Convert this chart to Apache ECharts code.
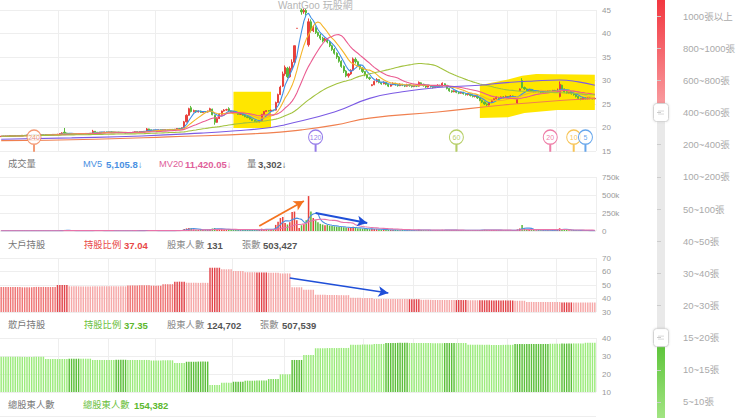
<!DOCTYPE html>
<html><head><meta charset="utf-8">
<script src="https://cdn.jsdelivr.net/npm/echarts@6/dist/echarts.min.js"></script>
<style>html,body{margin:0;padding:0;background:#fff}#c{width:740px;height:418px}</style>
</head><body><div id="c"></div>
<script>
// ---- daily candles [open, close, low, high] ----
const candles = [
[18.05,18.15,18.0,18.2],[18.15,18.1,18.05,18.2],[18.1,18.2,18.05,18.25],[18.2,18.15,18.1,18.25],[18.15,18.25,18.1,18.3],[18.25,18.2,18.15,18.3],[18.2,18.3,18.15,18.35],[18.3,18.25,18.2,18.35],[18.25,18.3,18.2,18.4],[18.3,18.35,18.25,18.4],
[18.35,18.3,18.25,18.4],[18.3,18.4,18.25,18.45],[18.4,18.35,18.3,18.45],[18.35,18.4,18.3,18.5],[18.4,18.45,18.35,18.5],[18.45,18.4,18.35,18.5],[18.4,18.45,18.35,18.5],[18.45,18.5,18.4,18.55],[18.5,18.45,18.4,18.55],[18.45,18.5,18.4,18.6],
[18.5,18.45,18.4,18.55],[18.45,18.5,18.4,18.55],[18.5,18.55,18.45,18.6],[18.55,18.5,18.45,18.6],[18.5,18.55,18.45,18.65],[18.55,18.7,18.5,18.75],[18.7,18.85,18.65,19.0],[19.0,18.8,18.7,19.9],[18.8,18.7,18.6,18.9],[18.7,18.65,18.6,18.75],
[18.65,18.7,18.6,18.75],[18.7,18.6,18.55,18.75],[18.6,18.65,18.55,18.7],[18.65,18.7,18.6,18.75],[18.7,18.65,18.6,18.75],[18.65,18.7,18.6,18.8],[18.7,18.75,18.65,18.8],[18.75,18.7,18.65,18.8],[18.7,18.8,18.65,18.85],[18.8,19.2,18.75,19.5],
[19.2,19.0,18.95,19.25],[19.0,18.95,18.9,19.05],[18.95,19.0,18.9,19.05],[19.0,18.95,18.9,19.05],[18.95,19.05,18.9,19.1],[19.05,19.0,18.95,19.1],[19.0,19.05,18.95,19.1],[19.05,19.0,18.95,19.1],[19.0,18.95,18.9,19.05],[18.95,19.0,18.9,19.05],
[19.0,18.9,18.85,19.05],[18.9,18.95,18.85,19.0],[18.95,18.9,18.85,19.0],[18.9,18.85,18.8,18.95],[18.85,18.9,18.8,18.95],[18.9,18.95,18.85,19.0],[18.95,19.0,18.9,19.05],[19.0,19.1,18.95,19.15],[19.1,19.05,19.0,19.15],[19.05,19.1,19.0,19.2],
[19.1,19.15,19.05,19.2],[19.15,19.2,19.1,19.25],[19.2,19.7,19.15,19.9],[19.7,19.5,19.4,19.75],[19.5,19.4,19.35,19.55],[19.4,19.45,19.35,19.5],[19.45,19.4,19.35,19.5],[19.4,19.5,19.35,19.55],[19.5,19.45,19.4,19.55],[19.45,19.5,19.4,19.55],
[19.5,19.55,19.45,19.6],[19.55,19.5,19.45,19.6],[19.5,19.6,19.45,19.65],[19.6,19.55,19.5,19.65],[19.55,19.65,19.5,19.7],[19.65,19.8,19.6,19.85],[19.8,19.75,19.7,19.9],[19.75,19.95,19.7,20.0],[19.95,21.2,19.9,21.4],[21.2,22.6,21.1,22.8],
[22.6,24.0,22.5,24.2],[24.2,23.4,23.2,24.6],[23.4,23.6,23.2,23.8],[23.6,23.3,23.1,23.7],[23.3,23.5,23.2,23.6],[23.5,23.2,23.1,23.6],[23.2,23.4,23.1,23.5],[23.4,23.3,23.2,23.5],[23.3,23.5,23.2,23.6],[23.5,24.0,23.4,24.2],
[23.9,22.7,22.6,24.0],[22.6,21.1,20.6,22.7],[21.1,21.9,21.0,22.0],[21.9,22.8,21.8,23.0],[22.8,23.5,22.7,23.6],[23.5,23.7,23.4,23.9],[23.7,23.8,23.6,24.0],[24.0,23.5,23.4,24.3],[23.5,23.4,23.3,23.6],[23.4,23.2,23.1,23.5],
[23.2,23.0,22.9,23.3],[23.0,22.8,22.7,23.1],[22.8,22.9,22.7,23.0],[22.9,22.6,22.5,23.0],[22.6,22.3,22.2,22.7],[22.3,22.1,22.0,22.4],[22.1,21.8,21.7,22.2],[21.8,21.5,21.4,21.9],[21.5,21.3,21.2,21.6],[21.3,21.2,21.1,21.4],
[21.2,21.5,21.1,21.6],[21.5,22.8,21.4,22.9],[22.8,23.4,22.7,23.5],[23.4,23.6,23.3,23.7],[23.6,23.5,23.4,23.7],[23.5,23.7,23.4,23.8],[23.7,23.6,23.5,23.8],[23.7,25.3,23.6,25.5],[25.3,27.0,25.2,27.2],[27.0,28.6,26.9,28.9],
[28.8,31.4,28.6,31.9],[31.4,32.8,31.0,33.2],[32.6,30.8,30.5,32.9],[30.8,32.6,30.6,33.0],[32.6,33.9,32.3,34.5],[33.9,37.4,33.7,37.4],[41.1,41.1,41.1,41.1],[45.1,45.1,45.1,45.1],[45.0,44.6,44.0,45.3],[44.6,44.9,44.2,45.3],
[44.9,44.4,43.8,45.2],[37.6,42.5,37.2,43.2],[42.5,40.6,40.2,43.0],[40.6,41.4,40.3,41.8],[41.2,40.2,39.9,41.5],[40.2,39.6,39.3,40.4],[39.6,39.0,38.6,39.9],[39.0,38.4,38.1,39.3],[38.5,38.8,38.2,39.1],[38.8,38.2,37.9,39.0],
[38.2,37.4,37.1,38.4],[37.4,36.6,36.3,37.6],[36.6,35.8,35.5,36.9],[35.8,35.0,34.6,36.0],[35.0,34.1,33.8,35.2],[34.1,33.0,32.7,34.3],[33.0,32.0,31.6,33.2],[32.0,31.0,30.7,32.2],[31.0,31.4,30.6,31.6],[31.4,32.2,31.2,32.4],
[32.2,34.6,32.0,34.9],[34.5,34.0,33.6,34.9],[34.0,33.2,33.0,34.2],[33.2,32.6,32.3,33.4],[32.6,31.9,31.6,32.8],[31.9,31.2,30.9,32.0],[31.2,30.6,30.4,31.3],[30.6,30.4,30.1,30.8],[28.9,29.1,28.8,29.2],[29.1,29.8,29.0,30.0],
[29.8,30.2,29.6,30.5],[30.2,29.6,29.4,30.3],[29.6,29.3,29.1,29.7],[29.3,29.6,29.2,29.8],[29.6,29.2,29.0,29.7],[29.2,28.8,28.6,29.3],[28.8,29.1,28.7,29.3],[29.1,29.4,29.0,29.6],[29.4,29.1,28.9,29.5],[29.1,28.9,28.7,29.2],
[28.9,29.2,28.8,29.4],[29.2,29.0,28.8,29.3],[29.0,28.8,28.6,29.1],[28.8,29.1,28.7,29.3],[29.1,28.9,28.7,29.2],[28.9,28.7,28.5,29.0],[28.7,29.0,28.6,29.1],[29.0,28.8,28.6,29.1],[28.8,29.6,28.7,29.8],[29.5,29.2,29.0,29.6],
[29.2,28.9,28.7,29.3],[28.9,28.6,28.4,29.0],[28.6,28.9,28.5,29.0],[28.9,28.7,28.5,29.0],[28.7,28.5,28.3,28.8],[28.5,28.8,28.4,28.9],[28.8,29.0,28.7,29.2],[29.0,28.8,28.6,29.1],[28.8,29.4,28.7,29.6],[29.3,29.0,28.8,29.4],
[29.0,28.3,28.1,29.0],[28.3,27.8,27.6,28.4],[27.8,27.6,27.4,27.9],[27.6,27.8,27.5,27.9],[27.8,27.5,27.3,27.9],[27.5,27.3,27.1,27.6],[27.3,27.5,27.2,27.6],[27.5,27.2,27.0,27.6],[27.2,27.0,26.8,27.3],[27.0,27.1,26.8,27.2],
[27.1,26.8,26.6,27.2],[26.8,26.6,26.4,26.9],[26.6,26.7,26.4,26.8],[26.7,26.3,26.1,26.8],[26.3,25.8,25.6,26.4],[25.8,25.4,25.2,25.9],[25.4,25.0,24.8,25.5],[25.0,24.8,24.6,25.1],[24.8,25.3,24.7,25.4],[25.3,25.8,25.2,25.9],
[25.8,26.1,25.7,26.2],[26.1,26.4,26.0,26.6],[26.4,26.2,26.0,26.5],[26.2,26.5,26.1,26.6],[26.5,26.4,26.2,26.7],[26.4,26.6,26.3,26.8],[26.6,26.5,26.3,26.7],[26.5,26.7,26.4,26.9],[26.7,26.6,26.4,26.8],[26.6,26.4,26.2,26.7],
[25.2,25.9,25.0,26.0],[27.9,28.2,27.8,28.3],[30.0,28.5,28.3,30.5],[28.5,28.2,28.0,28.7],[28.2,27.9,27.7,28.3],[27.9,28.1,27.8,28.2],[28.1,27.8,27.6,28.2],[27.8,27.6,27.4,27.9],[27.6,27.8,27.5,27.9],[27.8,27.7,27.5,27.9],
[27.7,27.5,27.3,27.8],[27.5,27.7,27.4,27.8],[27.7,27.6,27.4,27.8],[27.6,27.8,27.5,27.9],[27.8,27.7,27.5,27.9],[27.7,27.9,27.6,28.0],[27.9,27.6,27.4,28.0],[27.6,27.8,27.5,28.3],[26.6,29.2,26.4,29.8],[29.0,28.2,28.0,29.1],
[28.2,27.6,27.4,28.3],[27.6,27.4,27.2,27.7],[27.4,27.5,27.2,27.6],[27.5,27.2,27.0,27.6],[27.2,27.0,26.8,27.3],[27.0,26.6,26.4,27.1],[26.6,26.2,26.0,26.7],[26.2,26.0,25.8,26.3],[26.0,26.3,25.9,26.4],[26.3,26.1,26.0,26.4],
[26.1,26.3,26.0,26.4],[26.3,26.2,26.0,26.4],[26.2,26.1,26.0,26.3],[26.1,26.2,26.0,26.3]
];
// ---- daily volume (張) ----
const volumes = [
3200,2800,4100,3500,2600,3900,4400,3100,2900,3600,
4200,3300,2700,3800,4600,3000,3400,5200,3700,2900,
3100,4000,4800,3600,4300,6800,9500,14800,7200,4600,
3800,3500,4100,3200,3900,4400,3700,4200,5100,11800,
7600,4800,3900,3600,4200,3800,3300,4100,3500,3700,
3400,3900,3100,3600,3300,4000,4500,5300,4700,5100,
4800,5600,12500,8200,5400,4600,4100,5000,4300,4700,
5200,4600,5800,5100,6200,8400,7300,9800,28000,36000,
42000,38000,22000,18000,16000,19000,15000,14000,17000,26000,
34000,41000,28000,24000,26000,21000,19000,22000,16000,15000,
14000,13000,12000,15000,17000,16000,18000,15000,14000,13000,
16000,32000,28000,22000,19000,21000,24000,85000,130000,180000,
195000,110000,90000,120000,265000,270000,150000,40000,80000,95000,
150000,485000,270000,180000,150000,120000,100000,90000,80000,85000,
75000,70000,65000,60000,58000,55000,52000,48000,45000,42000,
60000,45000,38000,35000,33000,30000,28000,26000,30000,28000,
25000,22000,20000,18000,17000,16000,15000,14000,15000,13000,
12000,13000,11000,12000,10000,11000,12000,10000,18000,14000,
12000,11000,10000,11000,9000,10000,11000,9000,16000,12000,
14000,13000,11000,10000,12000,11000,9000,10000,11000,9000,
10000,11000,9000,12000,14000,15000,16000,14000,12000,13000,
14000,12000,10000,11000,9000,10000,9000,10000,8000,9000,
22000,35000,82000,38000,26000,20000,16000,14000,12000,13000,
11000,10000,9000,10000,8000,9000,12872,16000,38000,24000,
19000,15000,10000,9000,11000,10000,8000,7000,6000,5927,
5000,4500,6800,3302
];
// ---- weekly shareholding ratios (%) ----
const bigHoldPct = [48.5,48.5,48.3,48.6,48.5,50.0,49.0,48.9,49.0,49.1,49.0,49.7,49.8,49.5,50.6,52.5,51.7,51.6,62.8,61.6,60.4,59.5,59.3,59.1,58.6,48.3,46.5,42.8,42.6,42.5,40.5,40.3,39.7,39.6,39.6,39.5,39.0,38.9,38.9,38.8,38.7,38.7,38.6,38.6,38.3,37.5,37.4,37.4,37.1,37.0,37.04];
const retailPct  = [29.6,29.6,29.5,29.6,28.3,28.3,28.5,28.5,27.8,27.8,27.9,27.8,27.8,27.5,27.6,26.1,26.8,26.9,13.9,15.2,15.7,16.3,16.4,17.2,19.8,27.8,30.6,34.3,34.4,34.5,36.2,36.4,36.7,37.2,37.3,37.2,37.2,37.1,37.2,37.2,36.3,36.2,36.1,36.2,36.6,36.7,36.7,36.8,36.9,37.0,37.35];
const bigShade    = [1,1,1,1,1,2,0,0,0,0,0,1,1,1,1,2,0,0,2,0,0,0,2,0,0,0,0,0,0,0,0,0,0,0,0,2,0,0,0,2,0,2,2,2,0,0,0,0,2,0,0];
const retailShade = [0,0,0,0,0,0,2,0,0,0,2,0,0,0,0,0,2,2,0,0,2,1,1,1,0,2,0,0,0,0,0,0,0,2,2,0,0,0,2,0,0,0,0,0,2,2,2,0,2,0,0];
// ---- long moving averages [dayIndex, value] ----
const ma120Pts = [[0,17.5],[30,17.8],[60,18.2],[85,18.8],[100,19.3],[115,20.0],[121,20.6],[142,23.3],[157,26.2],[171,27.6],[186,28.5],[204,29.0],[214,29.5],[227,29.9],[238,30.1],[246,29.7],[253,29.0]];
const ma240Pts = [[0,17.2],[40,17.5],[71,18.0],[113,18.8],[128,19.5],[142,20.5],[157,22.0],[186,23.3],[214,24.8],[243,25.9],[253,26.2]];
const maMarkers = [240,120,60,20,10,5];
const monthStartIdx = [25,46,66,99,121,155,176,195,216,237];
const brokerLevels = ['1000張以上','800~1000張','600~800張','400~600張','200~400張','100~200張','50~100張','40~50張','30~40張','20~30張','15~20張','10~15張','5~10張'];
const highlightBoxes = [
  [[99,27.6],[115,27.6],[115,19.9],[99,19.9]],
  [[204,29.0],[209,29.5],[216,30.2],[222,31.0],[228,31.4],[253,31.2],[253,23.7],[237,23.7],[223,23.1],[216,22.2],[204,22.0]]
];
const volArrows = [
  {from:[110,70000], to:[129,417000], color:'#f4731f'},
  {from:[134,250000], to:[156,111000], color:'#1f4fd8'}
];
const bigArrow = {from:[123,55.2], to:[165,44.1], color:'#1f4fd8'};
const volSummary = {mv5:'5,105.8', mv20:'11,420.05', vol:'3,302'};
const bigSummary = {pct:'37.04', holders:'131', lots:'503,427'};
const retailSummary = {pct:'37.35', holders:'124,702', lots:'507,539'};
const totalHolders = '154,382';

// ---- build ----
const chart = echarts.init(document.getElementById('c'), null, {renderer:'svg', width:740, height:418});
const N = candles.length;
const cats = candles.map((_, i) => String(i));
const closes = candles.map(c => c[1]);
function movingAvg(arr, n){
  return arr.map((_, i) => { const s = Math.max(0, i-n+1); let t = 0; for (let k = s; k <= i; k++) t += arr[k]; return +(t/(i-s+1)).toFixed(3); });
}
const weekOf = i => i < 4 ? 0 : Math.floor((i-4)/5) + 1;
const UP = '#e8413c', DOWN = '#5cb83a';
const RED = ['#f6a8a8','#ef7676','#e2444a'];
const GREEN = ['#9ceb7c','#7dd95b','#5cbf3a'];
const MA_COLORS = {5:'#3f8fe6',10:'#f5b52a',20:'#ea5b90',60:'#a2c23e',120:'#7b5ae4',240:'#f08050'};
const FONT = '"Liberation Sans","Noto Sans CJK TC",sans-serif';

const volBars = volumes.map((v, i) => ({value:v, itemStyle:{color: candles[i][1] >= candles[i][0] ? UP : DOWN}}));
const bigBars = cats.map((_, i) => ({value: bigHoldPct[weekOf(i)], itemStyle:{color: RED[bigShade[weekOf(i)]]}}));
const retailBars = cats.map((_, i) => ({value: retailPct[weekOf(i)], itemStyle:{color: GREEN[retailShade[weekOf(i)]]}}));

const xCat = g => ({type:'category', gridIndex:g, data:cats, boundaryGap:true,
  axisLine:{show:false}, axisTick:{show:false}, axisLabel:{show:false},
  splitLine:{show:true, interval:(idx) => monthStartIdx.includes(idx), lineStyle:{color:'#eeeeee', width:1}}});
const yVal = (g, min, max, interval, fmt) => ({type:'value', gridIndex:g, position:'right', min, max, interval,
  axisLine:{show:false}, axisTick:{show:false},
  axisLabel:{color:'#999', fontSize:8, margin:6, fontFamily:FONT, formatter:fmt},
  splitLine:{lineStyle:{color:'#eeeeee', width:1}}});

const lineSeries = (name, data, color, xi, yi, smooth) => ({type:'line', name, data, xAxisIndex:xi, yAxisIndex:yi,
  symbol:'none', smooth: smooth, lineStyle:{color, width:1.1}, itemStyle:{color}, silent:true, z:3});

const pinPath = 'path://M0.5,7.5A7,7,0,1,1,14.5,7.5A7,7,0,1,1,0.5,7.5Z M7,14.5L8,14.5L8,21L7,21Z';

const option = {
  animation:false,
  grid:[
    {left:0, right:144, top:10, height:141},
    {left:0, right:144, top:177, height:54},
    {left:0, right:144, top:258, height:54},
    {left:0, right:144, top:338, height:54},
    {left:657, width:8, top:-14, height:437}
  ],
  xAxis:[xCat(0), xCat(1), xCat(2), xCat(3), {type:'value', gridIndex:4, show:false, min:0, max:1}],
  yAxis:[
    yVal(0, 15, 45, 5),
    yVal(1, 0, 750000, 250000, v => v === 0 ? '0' : (v/1000) + 'k'),
    yVal(2, 30, 70, 10),
    yVal(3, 10, 40, 10),
    {type:'category', gridIndex:4, data:brokerLevels, inverse:true, position:'right', offset:7,
     axisLine:{show:false}, axisTick:{show:true, alignWithLabel:true, length:4, lineStyle:{color:'#cccccc'}},
     axisLabel:{color:'#aaaaaa', fontSize:9.5, margin:11, fontFamily:FONT}, splitLine:{show:false}}
  ],
  series:[
    {type:'custom', xAxisIndex:0, yAxisIndex:0, z:1, silent:true, clip:false,
     data: highlightBoxes.map(b => [b[0][0], b[0][1]]),
     renderItem:(params, api) => ({type:'polygon', shape:{points: highlightBoxes[params.dataIndex].map(p => api.coord(p))}, style:{fill:'#ffe600'}})},
    {type:'candlestick', name:'K', xAxisIndex:0, yAxisIndex:0, data:candles, barWidth:'70%', z:2,
     itemStyle:{color:UP, color0:DOWN, borderColor:UP, borderColor0:DOWN, borderWidth:1}},
    lineSeries('MA5', movingAvg(closes,5), MA_COLORS[5], 0, 0, false),
    lineSeries('MA10', movingAvg(closes,10), MA_COLORS[10], 0, 0, false),
    lineSeries('MA20', movingAvg(closes,20), MA_COLORS[20], 0, 0, false),
    lineSeries('MA60', movingAvg(closes,60), MA_COLORS[60], 0, 0, false),
    lineSeries('MA120', ma120Pts, MA_COLORS[120], 0, 0, true),
    lineSeries('MA240', ma240Pts, MA_COLORS[240], 0, 0, true),
    {type:'scatter', xAxisIndex:0, yAxisIndex:0, z:6, silent:true,
     symbol:pinPath, symbolSize:[14,21], symbolOffset:[0,'-50%'],
     data: maMarkers.map(p => ({name:String(p), value:[N-p, 15],
       itemStyle:{color:'#ffffff', borderColor:MA_COLORS[p], borderWidth:1.2},
       label:{show:true, position:'inside', offset:[0,-3.5], formatter:String(p), color:MA_COLORS[p], fontSize:7, fontFamily:FONT}}))},
    {type:'bar', name:'vol', xAxisIndex:1, yAxisIndex:1, data:volBars, barWidth:'65%', z:2,
     markLine:{silent:true, symbol:['none','arrow'], symbolSize:[8,10], label:{show:false},
       data: volArrows.map(a => [{coord:a.from, lineStyle:{color:a.color, width:1.8, type:'solid'}}, {coord:a.to}])}},
    lineSeries('MV5', movingAvg(volumes,5), '#4a90e2', 1, 1, false),
    lineSeries('MV20', movingAvg(volumes,20), '#e873aa', 1, 1, false),
    {type:'bar', name:'big', xAxisIndex:2, yAxisIndex:2, data:bigBars, barWidth:'62%',
     markLine:{silent:true, symbol:['none','arrow'], symbolSize:[8,10], label:{show:false},
       data:[[{coord:bigArrow.from, lineStyle:{color:bigArrow.color, width:1.6, type:'solid'}}, {coord:bigArrow.to}]]}},
    {type:'bar', name:'retail', xAxisIndex:3, yAxisIndex:3, data:retailBars, barWidth:'62%'}
  ]
};
chart.setOption(option);

// ---- header texts ----
const T = (x, y, text, color, bold, size) => ({type:'text', x, y, silent:true, z:10,
  style:{text, fill:color, font:(bold ? 'bold ' : '') + (size || 9.3) + 'px ' + FONT, verticalAlign:'middle'}});
const texts = [
  T(8,164,'成交量','#777'), T(83,164,'MV5','#4a90e2'), T(106,164,volSummary.mv5 + '↓','#4a90e2',true,9.5),
  T(159,164,'MV20','#e0609a'), T(185,164,volSummary.mv20 + '↓','#e0609a',true,9.5),
  T(247,164,'量','#777'), T(258,164,volSummary.vol + '↓','#555',true,9.5),
  T(8,245,'大戶持股','#777'), T(84,245,'持股比例','#e84848'), T(124,245,bigSummary.pct,'#e84848',true,9.5),
  T(167,245,'股東人數','#888'), T(207,245,bigSummary.holders,'#555',true,9.5),
  T(242,245,'張數','#888'), T(263,245,bigSummary.lots,'#555',true,9.5),
  T(8,325,'散戶持股','#777'), T(84,325,'持股比例','#6cc040'), T(124,325,retailSummary.pct,'#5cb82e',true,9.5),
  T(167,325,'股東人數','#888'), T(207,325,retailSummary.holders,'#555',true,9.5),
  T(260,325,'張數','#888'), T(282,325,retailSummary.lots,'#555',true,9.5),
  T(8,405,'總股東人數','#777'), T(83,405,'總股東人數','#6cc040'), T(134,405,totalHolders,'#5cb82e',true,9.5),
  {type:'text', x:278, y:5, silent:true, z:10, style:{text:'WantGoo 玩股網', fill:'#b5b5b5', font:'10px ' + FONT, verticalAlign:'middle'}},
  {type:'rect', silent:true, z:0, shape:{x:0, y:416, width:596, height:1}, style:{fill:'#eeeeee'}}
];

// ---- range slider drawn against the level axis ----
const h1 = chart.convertToPixel({yAxisIndex:4}, brokerLevels[3]);
const h2 = chart.convertToPixel({yAxisIndex:4}, brokerLevels[10]);
const tx = 657, tw = 8;
const handle = (cy) => ({type:'group', children:[
  {type:'rect', shape:{x:tx-3.5, y:cy-9, width:15, height:18, r:3}, style:{fill:'#ffffff', stroke:'#d4d4d4', lineWidth:1, shadowBlur:2, shadowColor:'rgba(0,0,0,0.12)'}},
  {type:'rect', shape:{x:tx+1, y:cy-2, width:6, height:1}, style:{fill:'#d8d8d8'}},
  {type:'rect', shape:{x:tx+1, y:cy+1, width:6, height:1}, style:{fill:'#d8d8d8'}}
]});
const slider = [
  {type:'rect', shape:{x:tx, y:-4, width:tw, height:h1+4}, style:{fill:new echarts.graphic.LinearGradient(0,0,0,1,[{offset:0,color:'#f2333c'},{offset:1,color:'#f9a3a6'}])}},
  {type:'rect', shape:{x:tx, y:h1, width:tw, height:h2-h1}, style:{fill:'#e9e9e9'}},
  {type:'rect', shape:{x:tx, y:h2, width:tw, height:422-h2}, style:{fill:new echarts.graphic.LinearGradient(0,0,0,1,[{offset:0,color:'#56c132'},{offset:1,color:'#a6e687'}])}},
  handle(h1), handle(h2)
];
chart.setOption({graphic: texts.concat(slider)});
</script></body></html>
